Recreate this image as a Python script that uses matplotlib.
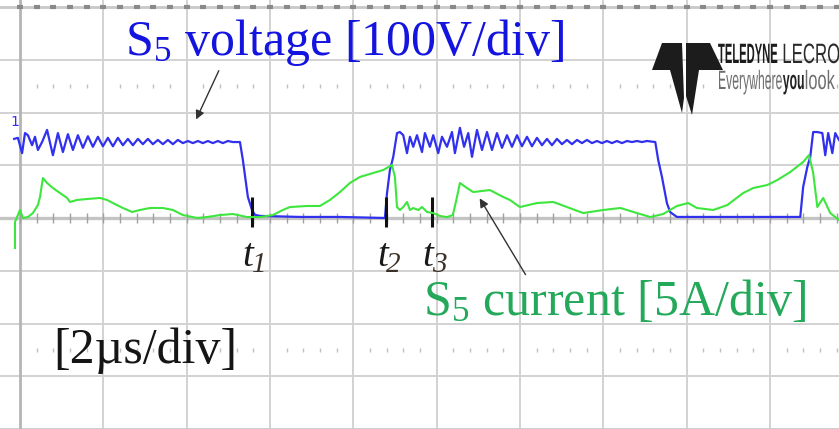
import matplotlib.pyplot as plt
import matplotlib.transforms as mtransforms
from matplotlib.patches import Polygon, PathPatch
from matplotlib.textpath import TextPath
from matplotlib.font_manager import FontProperties
import numpy as np

plt.rcParams['mathtext.fontset'] = 'custom'
plt.rcParams['mathtext.rm'] = 'Liberation Serif'
plt.rcParams['mathtext.it'] = 'Liberation Serif:italic'

# scope settings
time_per_div = 2.0     # us
volt_per_div = 100.0   # V
amp_per_div = 5.0      # A

# S5 voltage trace (us, V)
v_time = [-0.14, -0.05, 0.05, 0.12, 0.19, 0.29, 0.36, 0.43, 0.53, 0.65, 0.79, 0.91,
          1.03, 1.15, 1.27, 1.39, 1.51, 1.63, 1.75, 1.87, 1.99, 2.11, 2.23, 2.35,
          2.47, 2.59, 2.71, 2.83, 2.95, 3.07, 3.19, 3.31, 3.43, 3.55, 3.67, 3.79,
          3.91, 4.03, 4.15, 4.27, 4.39, 4.51, 4.63, 4.75, 4.87, 4.99, 5.11, 5.28,
          5.35, 5.47, 5.57, 5.64, 5.76, 6.72, 7.68, 8.76,
          8.81, 8.88, 8.96, 9.05, 9.12, 9.20, 9.29, 9.36, 9.44, 9.53, 9.65, 9.72,
          9.84, 9.92, 10.04, 10.13, 10.25, 10.37, 10.44, 10.56, 10.66, 10.76, 10.85,
          10.97, 11.09, 11.21, 11.33, 11.45, 11.57, 11.69, 11.81, 11.93, 12.05,
          12.17, 12.29, 12.41, 12.53, 12.65, 12.77, 12.89, 13.01, 13.13, 13.25,
          13.37, 13.49, 13.61, 13.73, 13.85, 13.97, 14.09, 14.21, 14.33, 14.45,
          14.57, 14.69, 14.81, 14.93, 15.05, 15.25,
          15.32, 15.41, 15.53, 15.61, 15.77, 16.81, 17.77, 18.73,
          18.80, 18.90, 18.97, 19.04, 19.14, 19.26, 19.33, 19.40, 19.50, 19.57, 19.66]
v_volt = [150, 152, 123, 161, 157, 138, 154, 129, 144, 167, 119, 161,
          125, 159, 129, 157, 133, 155, 135, 154, 136, 152, 136, 152,
          138, 150, 138, 150, 140, 150, 140, 148, 140, 148, 140, 148,
          142, 146, 142, 146, 142, 146, 142, 146, 142, 146, 144, 144,
          110, 40, 15, 6, 4, 2, 2, 0,
          47, 91, 116, 161, 163, 157, 123, 154, 135, 157, 125, 161,
          135, 157, 123, 154, 135, 163, 123, 171, 135, 161, 116,
          167, 129, 163, 129, 161, 133, 157, 135, 157, 136,
          154, 136, 152, 138, 150, 138, 150, 140, 148, 140,
          148, 142, 148, 142, 146, 142, 146, 142, 146, 142,
          146, 144, 146, 144, 146, 144,
          110, 78, 28, 11, 2, 2, 2, 2,
          59, 97, 116, 163, 163, 161, 119, 161, 123, 161, 148]

# S5 current trace (us, A)
i_time = [-0.12, -0.12, 0.0, 0.07, 0.19, 0.31, 0.43, 0.48, 0.55, 0.65, 0.79, 0.96,
          1.13, 1.20, 1.37, 1.61, 1.92, 2.09, 2.23, 2.47, 2.69, 2.88, 3.12, 3.43,
          3.67, 3.91, 4.25, 4.49, 4.80, 5.11, 5.45, 5.76, 6.07, 6.31, 6.48, 6.89,
          7.20, 7.44, 7.68, 7.92, 8.16, 8.48, 8.72, 8.93, 9.00, 9.05, 9.12, 9.20,
          9.29, 9.36, 9.44, 9.56, 9.65, 9.77, 9.92, 10.08, 10.25, 10.39, 10.49,
          10.56, 10.73, 10.88, 11.28, 11.60, 11.76, 12.00, 12.41, 12.80, 13.13,
          13.52, 14.00, 14.41, 14.81, 15.13, 15.44, 15.77, 16.04, 16.25, 16.64,
          16.98, 17.36, 17.60, 17.94, 18.18, 18.49, 18.80, 18.94, 19.04, 19.14,
          19.28, 19.45, 19.66]
i_amp = [-2.84, -0.38, 0.76, 0.0, 0.09, 0.47, 1.23, 1.99, 3.79, 3.32, 2.84, 2.37,
         1.90, 1.52, 1.71, 1.80, 1.90, 1.71, 1.42, 0.95, 0.57, 0.76, 0.95, 0.95,
         0.76, 0.28, 0.0, 0.09, 0.28, 0.38, 0.09, 0.09, 0.28, 0.76, 1.04, 1.14,
         1.14, 1.71, 2.46, 3.32, 3.89, 4.27, 4.55, 5.02, 3.89, 1.04, 0.76, 1.04,
         1.52, 0.76, 0.95, 0.76, 1.04, 0.57, 0.47, 0.19, 0.09, 0.28, 1.99,
         3.32, 2.84, 2.46, 2.65, 1.99, 1.71, 1.04, 1.42, 1.52, 1.04,
         0.47, 0.76, 0.95, 0.47, 0.09, 0.38, 1.14, 1.42, 0.95, 0.76,
         1.23, 2.37, 2.84, 3.13, 3.60, 4.36, 5.31, 5.97, 4.27, 1.04,
         1.90, 0.47, -0.19]

# switching instants
event_times = [5.57, 8.79, 9.89]
event_digits = ['1', '2', '3']

W, H = 839, 429
fig = plt.figure(figsize=(W / 100, H / 100), dpi=100)
# top-left pixel coordinates for the overlay text and logo
pix = mtransforms.Affine2D().scale(1 / W, -1 / H).translate(0, 1) + fig.transFigure

ax = fig.add_axes([0, 0, 1, 1])
ax.set_xlim(-0.24 * time_per_div, 9.83 * time_per_div)
ax.set_ylim(-4.0 * volt_per_div, 4.133 * volt_per_div)
ax.axis('off')

# graticule
grid_c = '#d2d2d2'
for k in range(1, 10):
    ax.axvline(k * time_per_div, color=grid_c, lw=1.4, zorder=0)
for j in range(-3, 4):
    if j != 0:
        ax.axhline(j * volt_per_div, color=grid_c, lw=1.4, zorder=0)
ax.axhline(0, color='#c4c4c4', lw=2.4, zorder=0)
ax.axhline(4 * volt_per_div, color='#c8c8c8', lw=2.0, zorder=0)
ax.axhline(-4 * volt_per_div, color='#c8c8c8', lw=2.0, zorder=0)
ax.axvline(0, color='#b4b4b4', lw=2.0, zorder=0)

tx = np.arange(0, 10 * time_per_div, time_per_div / 5)
ax.plot(tx, np.zeros_like(tx), ls='none', marker='|', ms=7, mew=1.0, color='#a0a0a0', zorder=0)
ax.plot(tx, np.full_like(tx, 4 * volt_per_div), ls='none', marker='_', ms=4, mew=3,
        color='#8a8a8a', zorder=0)
minor = tx[np.round(tx / (time_per_div / 5)).astype(int) % 5 != 0]
for lvl in (2.5, -2.5):
    ax.plot(minor, np.full_like(minor, lvl * volt_per_div), ls='none', marker='|', ms=3.5,
            mew=1.0, color='#c0c0c0', zorder=0)

# traces
ax.plot(v_time, v_volt, color='#3030ee', lw=1.6, zorder=3, solid_joinstyle='round')
ax2 = ax.twinx()
ax2.set_ylim(-4.0 * amp_per_div, 4.133 * amp_per_div)
ax2.axis('off')
ax2.plot(i_time, i_amp, color='#3de63d', lw=1.5, zorder=2)

# channel tag at the left edge
fig.text(10, 126, '1', transform=pix, va='baseline', fontsize=10, color='#3030ee')

# t1, t2, t3 markers
ax.vlines(event_times, -17, 40, color='#111111', lw=2.2, zorder=4)
for t, d in zip(event_times, event_digits):
    ax.annotate('t', xy=(t, -91), xytext=(1, 0), textcoords='offset points',
                ha='right', va='baseline', family='Liberation Serif', style='italic',
                fontsize=28, color='#1a1a1a')
    ax.annotate(d, xy=(t, -91), xytext=(0, -4), textcoords='offset points',
                ha='left', va='baseline', family='Liberation Serif', style='italic',
                fontsize=21, color='#3a3028')

# labels and arrows
serif = 'Liberation Serif'
fig.text(125, 55, r'$\mathrm{S}_5$ voltage [100V/div]', transform=pix, va='baseline',
         family=serif, fontsize=36, color='#1414e0')
fig.text(423, 315, r'$\mathrm{S}_5$ current [5A/div]', transform=pix, va='baseline',
         family=serif, fontsize=36, color='#24a85a')
fig.text(53, 363, '[2µs/div]', transform=pix, va='baseline',
         family=serif, fontsize=36, color='#151515')

arrow = dict(arrowstyle='-|>', color='#333333', lw=1.0, mutation_scale=13)
ax.annotate('', xy=(4.2, 182), xytext=(4.8, 284), arrowprops=arrow)
ax2.annotate('', xy=(11.0, 2.09), xytext=(12.17, -5.59), arrowprops=arrow)

# Teledyne LeCroy logo
left_half = [(652, 70), (662, 43), (682, 43), (684, 98), (682, 113), (670, 70)]
right_half = [(686, 43), (710, 43), (723, 70), (699, 70), (692, 115), (686, 96)]
for pts in (left_half, right_half):
    fig.add_artist(Polygon(pts, closed=True, transform=pix, color='#1c1c1c', lw=0))

def squeezed_text(s, x, y, size, sx, weight, color):
    tp = TextPath((0, 0), s, size=size, prop=FontProperties(family='Liberation Sans', weight=weight))
    tr = mtransforms.Affine2D().scale(sx, -1).translate(x, y) + pix
    fig.add_artist(PathPatch(tp, transform=tr, color=color, lw=0))
    return x + tp.get_extents().x1 * sx

x = squeezed_text('TELEDYNE', 718, 63, 28, 0.40, 'bold', '#1c1c1c')
squeezed_text('LECROY', x + 5, 63, 28, 0.60, 'normal', '#2a2a2a')
x = squeezed_text('Everywhere', 718, 89, 26.5, 0.46, 'normal', '#6e6e6e')
x = squeezed_text('you', x + 1, 89, 26.5, 0.46, 'bold', '#222222')
squeezed_text('look', x + 1, 89, 26.5, 0.62, 'normal', '#6e6e6e')

fig.savefig('out.png', dpi=100)
